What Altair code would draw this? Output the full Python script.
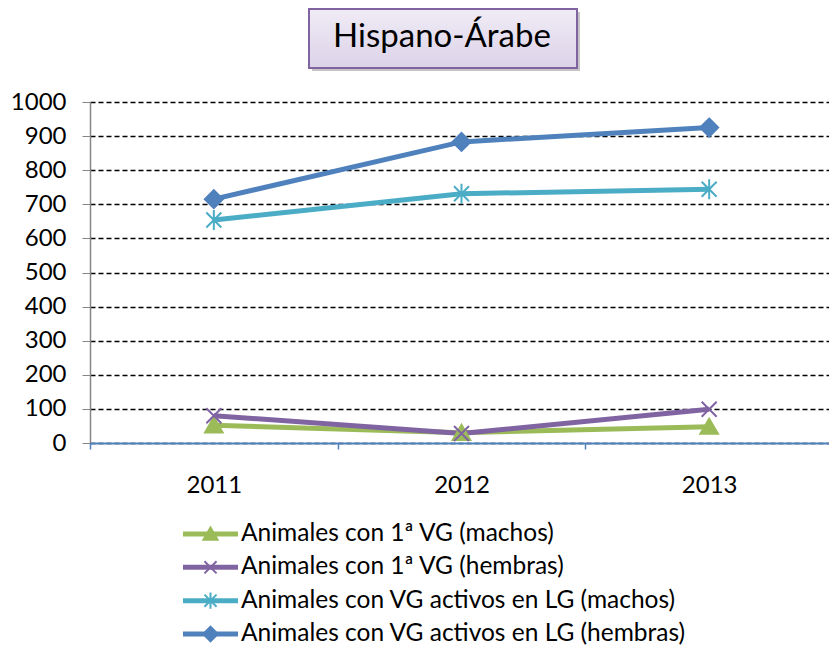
import altair as alt
import pandas as pd

years = ["2011", "2012", "2013"]
series = [
    "Animales con 1ª VG (machos)",
    "Animales con 1ª VG (hembras)",
    "Animales con VG activos en LG (machos)",
    "Animales con VG activos en LG (hembras)",
]
vals_m1 = [52, 30, 48]
vals_h1 = [80, 28, 99]
vals_ma = [654, 731, 744]
vals_ha = [715, 883, 925]
colors = ["#9BBB59", "#8064A2", "#4BACC6", "#4F81BD"]
title_text = "Hispano-Árabe"
y_ticks = list(range(0, 1001, 100))

FONT = "Lato"

# marker shapes (unit = 10px at size 400)
marker_paths = [
    "M0,-0.8L0.88,0.72L-0.88,0.72Z",
    "M-0.75,-0.75L0.75,0.75M-0.75,0.75L0.75,-0.75",
    "M-0.75,-0.75L0.75,0.75M-0.75,0.75L0.75,-0.75M0,-1L0,1",
    "M0,-0.9L0.9,0L0,0.9L-0.9,0Z",
]

rows = []
for s, vals in zip(series, [vals_m1, vals_h1, vals_ma, vals_ha]):
    for yr, v in zip(years, vals):
        rows.append({"year": yr, "series": s, "value": v})
df = pd.DataFrame(rows)
legend_df = pd.DataFrame({"series": series})

color_scale = alt.Scale(domain=series, range=colors)
shape_scale = alt.Scale(domain=series, range=marker_paths)
y_scale = alt.Scale(domain=[0, 1000], nice=False)

x_enc = alt.X(
    "year:O",
    scale=alt.Scale(type="band", paddingInner=0, paddingOuter=0, range=[0, 743]),
    axis=alt.Axis(
        title=None, labelAngle=0, tickBand="extent", domainColor="#4F81BD",
        tickColor="#4F81BD", tickSize=6, labelPadding=24, labelFontSize=24,
        labelFont=FONT, labelColor="black", grid=False, domainWidth=1.8,
        tickWidth=1.5, zindex=1,
    ),
)
y_enc = alt.Y(
    "value:Q",
    scale=y_scale,
    axis=alt.Axis(
        values=y_ticks, format="d", title=None, tickSize=8, tickColor="#868686",
        domainColor="#868686", domainWidth=1.5, gridColor="black", gridDash=[5, 3],
        gridWidth=1.3, labelPadding=16, labelFontSize=24, labelFont=FONT,
        labelColor="black",
    ),
)
y_enc_noaxis = alt.Y("value:Q", scale=y_scale, axis=None)

base = alt.Chart(df)

lines = base.mark_line(strokeWidth=5).encode(
    x=x_enc, y=y_enc,
    color=alt.Color("series:N", scale=color_scale, legend=None),
)

points = base.mark_point(filled=True, size=400, strokeWidth=2, opacity=1).encode(
    x=x_enc, y=y_enc_noaxis,
    fill=alt.Fill("series:N", scale=color_scale, legend=None),
    stroke=alt.Stroke("series:N", scale=color_scale, legend=None),
    shape=alt.Shape("series:N", scale=shape_scale, legend=None),
)

# legend (built from marks)
leg_y = alt.Y("series:N", scale=alt.Scale(type="point", domain=series, range=[432, 532], padding=0), axis=None)
leg_base = alt.Chart(legend_df)
leg_lines = leg_base.mark_rule(strokeWidth=5).encode(
    x=alt.value(93), x2=alt.value(148), y=leg_y,
    color=alt.Color("series:N", scale=color_scale, legend=None),
)
leg_points = leg_base.mark_point(filled=True, size=260, strokeWidth=2, opacity=1).encode(
    x=alt.value(120.5), y=leg_y,
    fill=alt.Fill("series:N", scale=color_scale, legend=None),
    stroke=alt.Stroke("series:N", scale=color_scale, legend=None),
    shape=alt.Shape("series:N", scale=shape_scale, legend=None),
)
leg_text = leg_base.mark_text(
    font=FONT, fontSize=24.5, color="black", align="left", baseline="middle"
).encode(x=alt.value(151), y=leg_y, text="series:N")

title_df = pd.DataFrame({"t": [title_text]})
shadow = alt.Chart(title_df).mark_rect(fill="#7f7f7f", opacity=0.45).encode(
    x=alt.value(222), x2=alt.value(490), y=alt.value(-90), y2=alt.value(-31)
)
box = alt.Chart(title_df).mark_rect(
    fill=alt.Gradient(
        gradient="linear",
        stops=[alt.GradientStop(color="#F0ECF6", offset=0),
               alt.GradientStop(color="#DCD2E8", offset=1)],
        x1=0, y1=0, x2=0, y2=1,
    ),
    stroke="#8064A2", strokeWidth=2,
).encode(x=alt.value(219), x2=alt.value(487), y=alt.value(-93), y2=alt.value(-34))
title = alt.Chart(title_df).mark_text(
    font=FONT, fontSize=33, color="black", baseline="alphabetic", align="center"
).encode(text="t:N", x=alt.value(352), y=alt.value(-55))

chart = alt.layer(
    lines, points, leg_lines, leg_points, leg_text, shadow, box, title
).resolve_scale(y="independent").properties(
    width=739, height=341,
    autosize=alt.AutoSizeParams(type="none"),
    padding={"left": 82, "top": 94, "right": 0, "bottom": 205},
).configure_view(stroke="transparent")

chart.save("out.html", embed_options={"renderer": "svg", "actions": False})
